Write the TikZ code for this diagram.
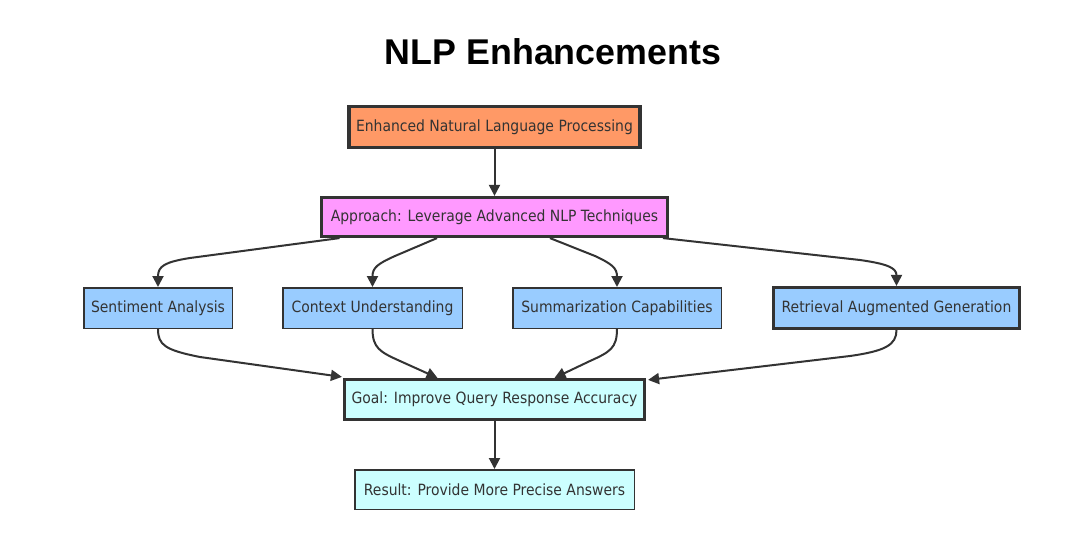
\documentclass[tikz,border=0pt]{standalone}
\usepackage{fontspec}
\setmainfont{DejaVu Sans Condensed}
\newfontfamily\titlefont{Liberation Sans}
\usetikzlibrary{arrows.meta,calc}
\definecolor{ink}{HTML}{333333}
\definecolor{orangefill}{HTML}{FF9966}
\definecolor{pinkfill}{HTML}{FF99FF}
\definecolor{bluefill}{HTML}{99CCFF}
\definecolor{cyanfill}{HTML}{CCFFFF}
\tikzset{
  box/.style={draw=ink, text=ink, font=\fontsize{15.5}{19}\selectfont, inner sep=0pt, anchor=center},
  thinbox/.style={box, line width=1.5pt},
  heavybox/.style={box, line width=3.2pt},
  edge/.style={draw=ink, line width=2pt, -{Triangle[length=11pt,width=11pt]}},
}
\begin{document}
\begin{tikzpicture}[x=1pt,y=-1pt]
\useasboundingbox[fill=white] (0,0) rectangle (1072,543);
\node[text=black, font=\titlefont\bfseries\fontsize{35.8}{42}\selectfont] (title) at (553,52) {NLP Enhancements};

\node[heavybox, fill=orangefill, minimum width=291pt, minimum height=41pt] (e1) at (494.5,127) {Enhanced Natural Language Processing};
\node[heavybox, fill=pinkfill, minimum width=346pt, minimum height=39pt] (app) at (494.5,217) {Approach: Leverage Advanced NLP Techniques};
\node[thinbox, fill=bluefill, minimum width=148.5pt, minimum height=40.5pt] (sa) at (158,308) {Sentiment Analysis};
\node[thinbox, fill=bluefill, minimum width=179.5pt, minimum height=40.5pt] (cu) at (372.5,308) {Context Understanding};
\node[thinbox, fill=bluefill, minimum width=208.5pt, minimum height=40.5pt] (sc) at (617,308) {Summarization Capabilities};
\node[heavybox, fill=bluefill, minimum width=246pt, minimum height=41pt] (rag) at (896.5,308) {Retrieval Augmented Generation};
\node[heavybox, fill=cyanfill, minimum width=300pt, minimum height=40pt] (goal) at (494.5,399.5) {Goal: Improve Query Response Accuracy};
\node[thinbox, fill=cyanfill, minimum width=279.5pt, minimum height=39.5pt] (res) at (494.5,489.5) {Result: Provide More Precise Answers};

\draw[edge] (e1) -- (app);
\draw[edge] ([xshift=-155pt]app.south) -- (190,258) .. controls (165,262) and (158,266) .. (sa.north);
\draw[edge] ([xshift=-57.5pt]app.south) -- (395,256) .. controls (377,264) and (372.5,268) .. (cu.north);
\draw[edge] ([xshift=55.5pt]app.south) -- (595,256) .. controls (612,264) and (617,268) .. (sc.north);
\draw[edge] ([xshift=168.5pt]app.south) -- (860,260) .. controls (888,264) and (896.5,268) .. (rag.north);

\draw[edge] (sa.south) .. controls (158,345) and (165,350) .. (200,357) -- ([xshift=-1pt,yshift=1pt]goal.north west);
\draw[edge] (cu.south) .. controls (372.5,348) and (380,352) .. (400,361) -- ([xshift=-57pt]goal.north);
\draw[edge] (sc.south) .. controls (617,348) and (610,352) .. (590,361) -- ([xshift=60pt]goal.north);
\draw[edge] (rag.south) .. controls (896.5,345) and (885,351) .. (850,356) -- ([xshift=2pt,yshift=-2pt]goal.north east);
\draw[edge] (goal) -- (res);
\end{tikzpicture}
\end{document}
